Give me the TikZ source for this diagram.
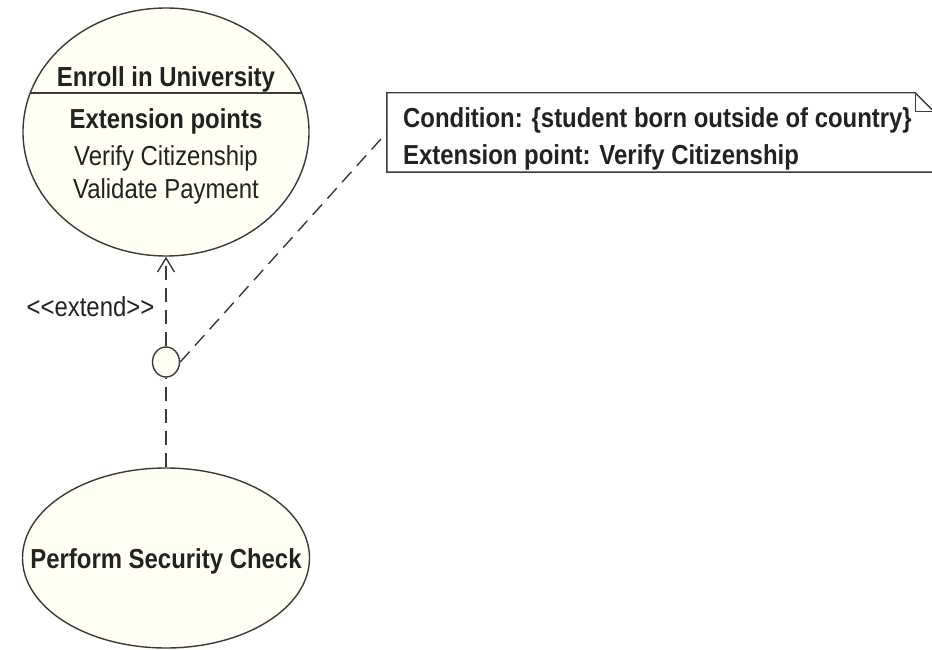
\documentclass[tikz,border=0pt]{standalone}
\usepackage{fontspec}
\setmainfont{Liberation Sans}[FakeStretch=0.87]
\usetikzlibrary{shapes.geometric,arrows.meta}
\definecolor{ucfill}{HTML}{FFFFF4}
\definecolor{ink}{HTML}{3A3A3A}
\definecolor{txt}{HTML}{222222}
\begin{document}
\begin{tikzpicture}[x=1pt,y=1pt,
  usecase/.style={ellipse, draw=ink, line width=1.4pt, fill=ucfill, inner sep=0pt},
  txtlabel/.style={font=\fontsize{27.5}{30}\selectfont, text=txt, inner sep=0pt, anchor=base},
  notelabel/.style={txtlabel, anchor=base west, font=\fontsize{27.5}{30}\selectfont\bfseries},
  dashline/.style={draw=ink, line width=1.4pt, dash pattern=on 14pt off 8pt},
  outline/.style={draw=ink, line width=1.4pt},
]
\useasboundingbox (0,0) rectangle (932,649);

% use cases
\node[usecase, minimum width=286, minimum height=248] (enroll) at (166,517) {};
\node[usecase, minimum width=287, minimum height=180] (security) at (166,91) {};
\node[usecase, minimum width=27, minimum height=30] (extpt) at (166,287) {};

% compartment line of the extended use case
\draw[outline] ([xshift=-135.7,yshift=39]enroll.center) -- ([xshift=135.7,yshift=39]enroll.center);

\node[txtlabel] (enrolltitle) at (166,562) {\bfseries Enroll in University};
\node[txtlabel] (extheading) at (166,520) {\bfseries Extension points};
\node[txtlabel] (extverify) at (166,483) {Verify Citizenship};
\node[txtlabel] (extpay) at (166,450) {Validate Payment};
\node[txtlabel] (sectitle) at (166,81) {\bfseries Perform Security Check};

% note with folded corner
\node[minimum width=547, minimum height=79, inner sep=0pt] (note) at (660.5,516.5) {};
\draw[outline, fill=white] (note.north west) -- ([xshift=-19]note.north east)
  -- ([yshift=-19]note.north east) -- (note.south east) -- (note.south west) -- cycle;
\draw[outline] ([xshift=-19]note.north east) |- ([yshift=-19]note.north east);
\node[notelabel] (notecond) at (403,521) {Condition: \{student born outside of country\}};
\node[notelabel] (notepoint) at (403,484) {Extension point: Verify Citizenship};

% extend relationship
\draw[dashline, -{Straight Barb[length=14pt,width=17pt]}] (extpt.north) -- (enroll.south);
\draw[dashline] (security.north) -- (extpt.south);
\draw[dashline] (extpt.east) -- (note.west);
\node[txtlabel] (extendlbl) at (90.5,332) {<{}<extend>{}>};
\end{tikzpicture}
\end{document}
